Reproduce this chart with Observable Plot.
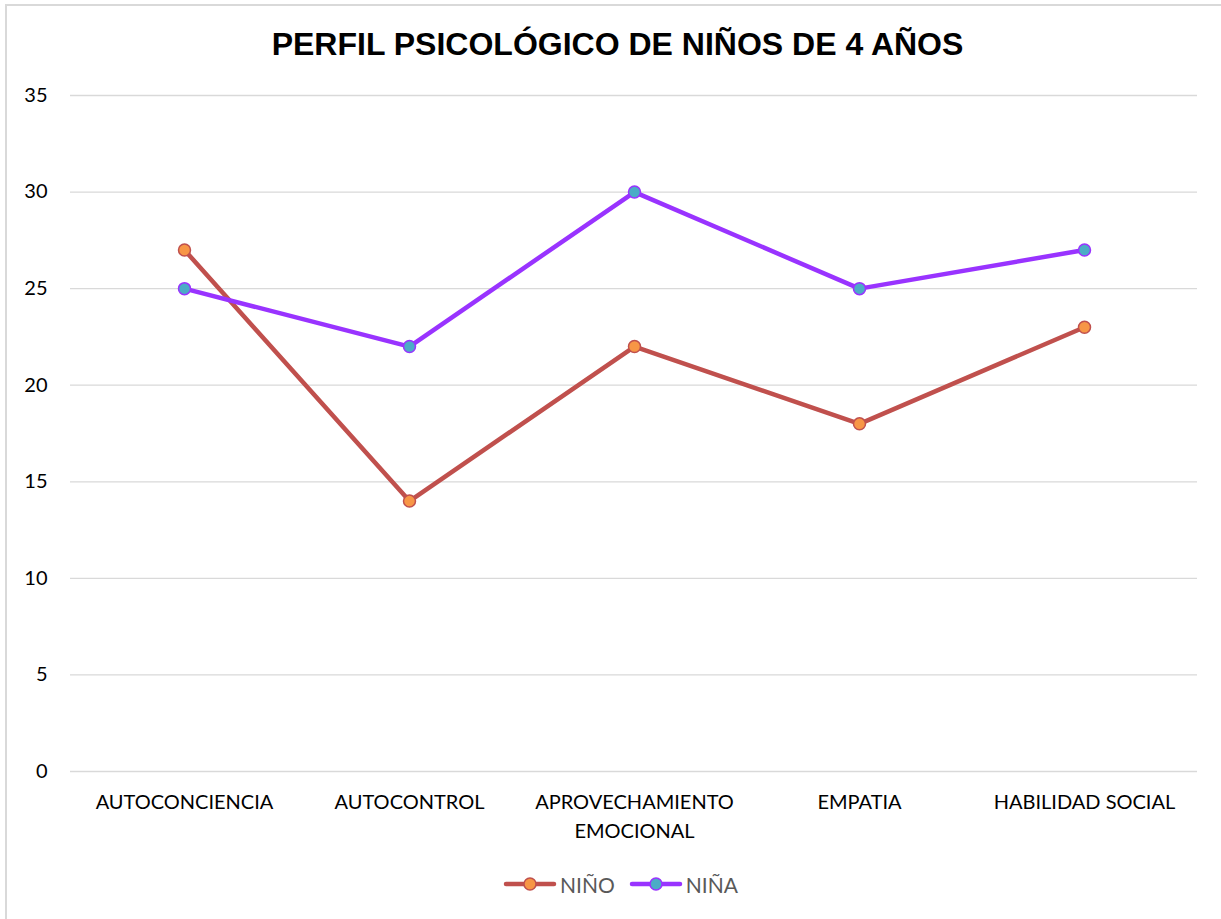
<!DOCTYPE html>
<html>
<head>
<meta charset="utf-8">
<script src="https://cdn.jsdelivr.net/npm/d3@7"></script>
<script src="https://cdn.jsdelivr.net/npm/@observablehq/plot@0.6"></script>
<style>
  html, body { margin: 0; padding: 0; background: #fff; overflow: hidden; width: 1221px; height: 919px; }
  #frame { position: absolute; left: 5px; top: 4px; width: 1230px; height: 930px; border-top: 2px solid #d9d9d9; border-left: 2px solid #d9d9d9; }
  #wrap { position: absolute; left: 0; top: 0; width: 1221px; height: 919px; font-family: Lato, "Liberation Sans", sans-serif; }
  #title { position: absolute; left: 0; top: 0; width: 1221px; height: 70px; text-align: center; font-family: "Liberation Sans", Arial, sans-serif; font-weight: bold; font-size: 32px; line-height: 88px; color: #000; padding-left: 14px; box-sizing: border-box; }
  #chart { position: absolute; left: 0; top: 70px; }
  #legend { position: absolute; left: 0; top: 869px; width: 1221px; height: 30px; display: flex; justify-content: center; align-items: center; gap: 14px; padding-left: 20px; box-sizing: border-box; font-size: 21px; color: #595959; }
  .item { display: flex; align-items: center; gap: 3px; }
</style>
</head>
<body>
<div id="frame"></div>
<div id="wrap">
  <div id="title">PERFIL PSICOLÓGICO DE NIÑOS DE 4 AÑOS</div>
  <div id="chart"></div>
  <div id="legend"></div>
</div>
<script>
const categories = ["AUTOCONCIENCIA", "AUTOCONTROL", "APROVECHAMIENTO EMOCIONAL", "EMPATIA", "HABILIDAD SOCIAL"];
const categoryLabels = ["AUTOCONCIENCIA", "AUTOCONTROL", "APROVECHAMIENTO\nEMOCIONAL", "EMPATIA", "HABILIDAD SOCIAL"];
const ninoValues = [27, 14, 22, 18, 23];
const ninaValues = [25, 22, 30, 25, 27];
const yTicks = [0, 5, 10, 15, 20, 25, 30, 35];
const seriesNames = ["NIÑO", "NIÑA"];
const seriesStyle = {
  "NIÑO": {line: "#c0504d", fill: "#f79646", stroke: "#c0504d"},
  "NIÑA": {line: "#9933ff", fill: "#4bacc6", stroke: "#9933ff"}
};

const data = [];
categories.forEach((c, i) => {
  data.push({series: "NIÑO", cat: c, value: ninoValues[i]});
  data.push({series: "NIÑA", cat: c, value: ninaValues[i]});
});
const labelOf = Object.fromEntries(categories.map((c, i) => [c, categoryLabels[i]]));

const chart = Plot.plot({
  width: 1221,
  height: 780,
  marginLeft: 70,
  marginRight: 24,
  marginTop: 25,
  marginBottom: 79,
  style: {fontFamily: "Lato, 'Liberation Sans', sans-serif", fontSize: "20px", color: "#000", background: "transparent", overflow: "visible"},
  x: {type: "point", domain: categories, padding: 0.5, label: null},
  y: {domain: [0, 35], ticks: yTicks, label: null},
  marks: [
    Plot.ruleY(yTicks, {stroke: "#d9d9d9", strokeWidth: 1.3}),
    Plot.axisY({ticks: yTicks, tickSize: 0, tickPadding: 23, label: null, fontSize: 20, fill: "#000"}),
    Plot.axisX({tickSize: 0, tickPadding: 17, label: null, fontSize: 20, fill: "#000", lineHeight: 1.45, tickFormat: d => labelOf[d]}),
    ...seriesNames.map(s => Plot.line(data.filter(d => d.series === s), {x: "cat", y: "value", stroke: seriesStyle[s].line, strokeWidth: 4.5, strokeLinejoin: "round", strokeLinecap: "round"})),
    ...seriesNames.map(s => Plot.dot(data.filter(d => d.series === s), {x: "cat", y: "value", r: 6, fill: seriesStyle[s].fill, stroke: seriesStyle[s].stroke, strokeWidth: 1.5}))
  ]
});
document.getElementById("chart").appendChild(chart);

const legend = document.getElementById("legend");
seriesNames.forEach(s => {
  const st = seriesStyle[s];
  const item = document.createElement("div");
  item.className = "item";
  item.innerHTML = `<svg width="54" height="16"><line x1="3" y1="8" x2="51" y2="8" stroke="${st.line}" stroke-width="4.5" stroke-linecap="round"/><circle cx="27" cy="8" r="6" fill="${st.fill}" stroke="${st.stroke}" stroke-width="1.5"/></svg><span>${s}</span>`;
  legend.appendChild(item);
});
</script>
</body>
</html>
